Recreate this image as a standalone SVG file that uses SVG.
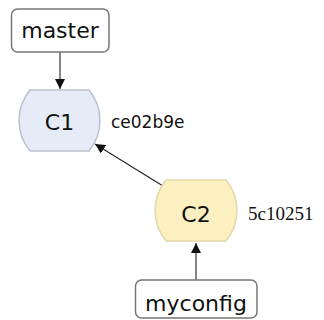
<svg xmlns="http://www.w3.org/2000/svg" width="324" height="320" viewBox="0 0 324 320">
  <style>
    .ref rect { fill: #ffffff; stroke: #777777; stroke-width: 1.5; }
    .lbl { font-family: "DejaVu Sans", sans-serif; font-size: 22px; fill: #111111; text-anchor: middle; }
    .c1 path { fill: #e6ecf7; stroke: #b9c1cd; stroke-width: 1.5; }
    .c2 path { fill: #fcefc0; stroke: #e3d8a9; stroke-width: 1.5; }
    .hash { font-family: "DejaVu Sans", sans-serif; font-size: 17px; fill: #111111; }
    .hash2 { font-family: "Liberation Serif", serif; font-size: 19px; fill: #111111; }
    .edges line { stroke: #222222; stroke-width: 1.1; marker-end: url(#tip); }
  </style>
  <defs>
    <marker id="tip" viewBox="0 0 10 10" refX="10" refY="5" markerWidth="10" markerHeight="10" markerUnits="userSpaceOnUse" orient="auto">
      <path d="M0,0 L10,5 L0,10 Z" fill="#111111"/>
    </marker>
  </defs>

  <g id="edges" class="edges">
    <line x1="60" y1="52" x2="60" y2="89"/>
    <line x1="163" y1="186" x2="95" y2="144"/>
    <line x1="196" y1="280" x2="196" y2="243"/>
  </g>

  <g id="master" class="ref">
    <rect x="11.5" y="9" width="97.5" height="43" rx="6"/>
    <text class="lbl" x="60" y="38">master</text>
  </g>

  <g id="C1" class="c1">
    <path d="M30,90 L89,90 A48,48 0 0 1 89,151 L30,151 A48,48 0 0 1 30,90 Z"/>
    <text class="lbl" x="59.5" y="130">C1</text>
    <text class="hash" x="111" y="127.5">ce02b9e</text>
  </g>

  <g id="C2" class="c2">
    <path d="M166,180 L226,180 A48,48 0 0 1 226,241 L166,241 A48,48 0 0 1 166,180 Z"/>
    <text class="lbl" x="196" y="221.5">C2</text>
    <text class="hash2" x="248" y="220">5c10251</text>
  </g>

  <g id="myconfig" class="ref">
    <rect x="135.5" y="280" width="121.5" height="38" rx="6"/>
    <text class="lbl" x="196" y="311">myconfig</text>
  </g>
</svg>
